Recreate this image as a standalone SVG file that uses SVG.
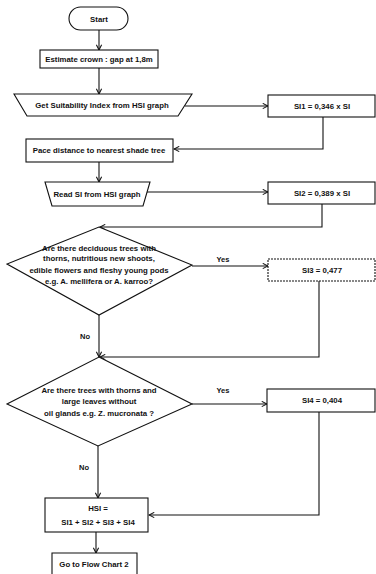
<svg xmlns="http://www.w3.org/2000/svg" width="376" height="574" viewBox="0 0 376 574">
<defs>
<marker id="arr" viewBox="0 0 8 8" refX="7" refY="4" markerWidth="7" markerHeight="7" orient="auto" markerUnits="userSpaceOnUse">
<path d="M1,1 L7,4 L1,7" fill="none" stroke="#111" stroke-width="1.2"/>
</marker>
<style>
.n{fill:#fff;stroke:#111;stroke-width:1.1}
.d{stroke-dasharray:2 1}
.c{fill:none;stroke:#111;stroke-width:1.1;marker-end:url(#arr)}
text{font-family:"Liberation Sans",Arial,sans-serif;font-size:7.8px;fill:#111;text-anchor:middle;font-weight:bold}
.lb{font-size:7.5px}
</style>
</defs>
<rect width="376" height="574" fill="#fff"/>
<g id="connectors">
<path class="c" d="M99,30 L99,50"/>
<path class="c" d="M99,68 L99,94"/>
<path class="c" d="M185,106 L268,106"/>
<path class="c" d="M323,117 L323,149 L174,149"/>
<path class="c" d="M99,162 L99,182"/>
<path class="c" d="M147,192 L268,192"/>
<path class="c" d="M322,204 L322,227 L100,227"/>
<path class="c" d="M192,266 L268,266"/>
<path class="c" d="M319,281 L319,357 L100,357"/>
<path class="c" d="M99,315 L99,357"/>
<path class="c" d="M192,404 L267,404"/>
<path class="c" d="M319,412 L319,515 L149,515"/>
<path class="c" d="M98,446 L98,498"/>
<path class="c" d="M96,532 L96,553"/>
<text class="lb" x="223" y="262">Yes</text>
<text class="lb" x="85" y="339">No</text>
<text class="lb" x="223" y="393">Yes</text>
<text class="lb" x="84" y="470">No</text>
</g>
<g id="start">
<rect class="n" x="69" y="7" width="59" height="23" rx="11.5"/>
<text x="99" y="21.5">Start</text>
</g>
<g id="estimate">
<rect class="n" x="40" y="50" width="118" height="18"/>
<text x="99" y="62">Estimate crown : gap at 1,8m</text>
</g>
<g id="getsi">
<path class="n" d="M14,94 L192,94 L178,116 L27,116 Z"/>
<text x="102" y="108">Get Suitability Index from HSI graph</text>
</g>
<g id="si1">
<rect class="n" x="268" y="95" width="107" height="22"/>
<text x="322" y="109">SI1 = 0,346 x SI</text>
</g>
<g id="pace">
<rect class="n" x="26" y="139" width="147" height="23"/>
<text x="99" y="153">Pace distance to nearest shade tree</text>
</g>
<g id="readsi">
<path class="n" d="M45,182 L150,182 L143,206 L52,206 Z"/>
<text x="97" y="196.5">Read SI from HSI graph</text>
</g>
<g id="si2">
<rect class="n" x="268" y="182" width="107" height="22"/>
<text x="322" y="196">SI2 = 0,389 x SI</text>
</g>
<g id="q1">
<path class="n" d="M99,227 L192,265 L99,315 L7,264 Z"/>
<text x="99" y="250.5">Are there deciduous trees with</text>
<text x="99" y="261">thorns, nutritious new shoots,</text>
<text x="99" y="272.5">edible flowers and fleshy young pods</text>
<text x="99" y="283.5">e.g. A. mellifera or A. karroo?</text>
</g>
<g id="si3">
<rect class="n d" x="268" y="259" width="107" height="22"/>
<text x="322" y="273">SI3 = 0,477</text>
</g>
<g id="q2">
<path class="n" d="M99,357 L192,404 L98,446 L7,404 Z"/>
<text x="99" y="392.5">Are there trees with thorns and</text>
<text x="99" y="404">large leaves without</text>
<text x="99" y="416">oil glands e.g. Z. mucronata ?</text>
</g>
<g id="si4">
<rect class="n" x="267" y="389" width="108" height="23"/>
<text x="322" y="403">SI4 = 0,404</text>
</g>
<g id="hsi">
<rect class="n" x="45" y="498" width="103" height="34"/>
<text x="98" y="511">HSI =</text>
<text x="98" y="525">SI1 + SI2 + SI3 + SI4</text>
</g>
<g id="goto">
<path class="n" d="M52,576 L52,553 L137,553 L137,576"/>
<text x="94" y="567">Go to Flow Chart 2</text>
</g>
</svg>
